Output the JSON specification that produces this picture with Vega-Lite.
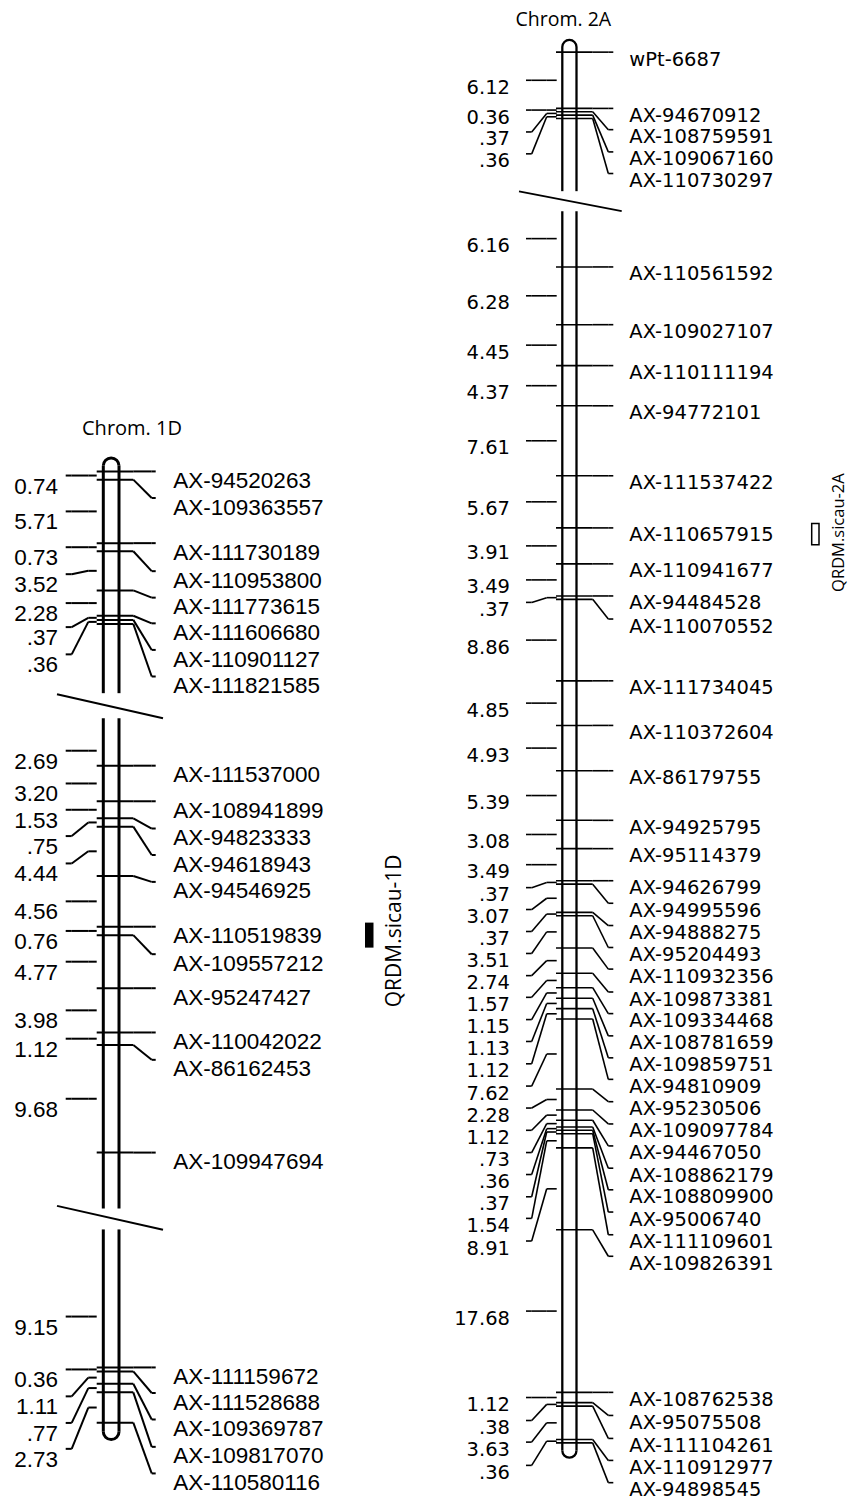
{
  "$schema": "https://vega.github.io/schema/vega-lite/v6.json",
  "width": 848,
  "height": 1500,
  "autosize": {"type": "fit", "contains": "padding"},
  "padding": 0,
  "background": "white",
  "config": {"view": {"stroke": null}},
  "datasets": {
    "m1D": [
      {"marker": "AX-94520263", "pos": 0, "lab": 0},
      {"marker": "AX-109363557", "pos": 0.74, "lab": 2.39},
      {"marker": "AX-111730189", "pos": 6.45, "lab": 6.45},
      {"marker": "AX-110953800", "pos": 7.18, "lab": 8.97},
      {"marker": "AX-111773615", "pos": 10.70, "lab": 11.35},
      {"marker": "AX-111606680", "pos": 12.98, "lab": 13.66},
      {"marker": "AX-110901127", "pos": 13.35, "lab": 16.05},
      {"marker": "AX-111821585", "pos": 13.71, "lab": 18.44},
      {"marker": "AX-111537000", "pos": 26.46, "lab": 26.46},
      {"marker": "AX-108941899", "pos": 29.66, "lab": 29.66},
      {"marker": "AX-94823333", "pos": 31.19, "lab": 32.11},
      {"marker": "AX-94618943", "pos": 31.94, "lab": 34.49},
      {"marker": "AX-94546925", "pos": 36.38, "lab": 36.91},
      {"marker": "AX-110519839", "pos": 40.94, "lab": 40.94},
      {"marker": "AX-109557212", "pos": 41.70, "lab": 43.41},
      {"marker": "AX-95247427", "pos": 46.47, "lab": 46.47},
      {"marker": "AX-110042022", "pos": 50.45, "lab": 50.45},
      {"marker": "AX-86162453", "pos": 51.57, "lab": 52.91},
      {"marker": "AX-109947694", "pos": 61.25, "lab": 61.25},
      {"marker": "AX-111159672", "pos": 80.57, "lab": 80.57},
      {"marker": "AX-111528688", "pos": 80.93, "lab": 82.87},
      {"marker": "AX-109369787", "pos": 82.04, "lab": 85.25},
      {"marker": "AX-109817070", "pos": 82.81, "lab": 87.71},
      {"marker": "AX-110580116", "pos": 85.54, "lab": 90.10}
    ],
    "i1D": [
      {"dist": "0.74", "mid": 0.37, "lab": 0.37},
      {"dist": "5.71", "mid": 3.595, "lab": 3.595},
      {"dist": "0.73", "mid": 6.815, "lab": 6.815},
      {"dist": "3.52", "mid": 8.94, "lab": 9.24},
      {"dist": "2.28", "mid": 11.84, "lab": 11.84},
      {"dist": ".37", "mid": 13.165, "lab": 14.0},
      {"dist": ".36", "mid": 13.53, "lab": 16.45},
      {"dist": "2.69", "mid": 25.115, "lab": 25.115},
      {"dist": "3.20", "mid": 28.06, "lab": 28.06},
      {"dist": "1.53", "mid": 30.425, "lab": 30.425},
      {"dist": ".75", "mid": 31.565, "lab": 32.79},
      {"dist": "4.44", "mid": 34.16, "lab": 35.25},
      {"dist": "4.56", "mid": 38.66, "lab": 38.66},
      {"dist": "0.76", "mid": 41.32, "lab": 41.32},
      {"dist": "4.77", "mid": 44.085, "lab": 44.085},
      {"dist": "3.98", "mid": 48.46, "lab": 48.46},
      {"dist": "1.12", "mid": 51.01, "lab": 51.01},
      {"dist": "9.68", "mid": 56.41, "lab": 56.41},
      {"dist": "9.15", "mid": 75.995, "lab": 75.995},
      {"dist": "0.36", "mid": 80.75, "lab": 80.75},
      {"dist": "1.11", "mid": 81.485, "lab": 83.17},
      {"dist": ".77", "mid": 82.425, "lab": 85.56},
      {"dist": "2.73", "mid": 84.175, "lab": 87.89}
    ],
    "seg1D": [
      {"start": -0.5, "end": 19.94},
      {"start": 22.2, "end": 66.28},
      {"start": 68.16, "end": 86.35}
    ],
    "cap1D": [
      {"end": "top", "pos": -0.5},
      {"end": "bottom", "pos": 86.35}
    ],
    "brk1D": [
      {"from": 20.03, "to": 22.2},
      {"from": 66.04, "to": 68.19}
    ],
    "qtl1D": [
      {"qtl": "QRDM.sicau-1D", "start": 40.57, "end": 42.82, "labelPos": 41.31}
    ],
    "m2A": [
      {"marker": "wPt-6687", "pos": 0, "lab": 0},
      {"marker": "AX-94670912", "pos": 6.12, "lab": 6.12},
      {"marker": "AX-108759591", "pos": 6.48, "lab": 8.43},
      {"marker": "AX-109067160", "pos": 6.85, "lab": 10.85},
      {"marker": "AX-110730297", "pos": 7.21, "lab": 13.20},
      {"marker": "AX-110561592", "pos": 23.36, "lab": 23.36},
      {"marker": "AX-109027107", "pos": 29.64, "lab": 29.64},
      {"marker": "AX-110111194", "pos": 34.09, "lab": 34.09},
      {"marker": "AX-94772101", "pos": 38.46, "lab": 38.46},
      {"marker": "AX-111537422", "pos": 46.07, "lab": 46.07},
      {"marker": "AX-110657915", "pos": 51.74, "lab": 51.74},
      {"marker": "AX-110941677", "pos": 55.65, "lab": 55.65},
      {"marker": "AX-94484528", "pos": 59.14, "lab": 59.14},
      {"marker": "AX-110070552", "pos": 59.51, "lab": 61.65},
      {"marker": "AX-111734045", "pos": 68.37, "lab": 68.37},
      {"marker": "AX-110372604", "pos": 73.22, "lab": 73.22},
      {"marker": "AX-86179755", "pos": 78.15, "lab": 78.15},
      {"marker": "AX-94925795", "pos": 83.54, "lab": 83.54},
      {"marker": "AX-95114379", "pos": 86.62, "lab": 86.62},
      {"marker": "AX-94626799", "pos": 90.11, "lab": 90.11},
      {"marker": "AX-94995596", "pos": 90.48, "lab": 92.56},
      {"marker": "AX-94888275", "pos": 93.55, "lab": 94.98},
      {"marker": "AX-95204493", "pos": 93.92, "lab": 97.37},
      {"marker": "AX-110932356", "pos": 97.43, "lab": 99.72},
      {"marker": "AX-109873381", "pos": 100.17, "lab": 102.21},
      {"marker": "AX-109334468", "pos": 101.74, "lab": 104.56},
      {"marker": "AX-108781659", "pos": 102.89, "lab": 106.98},
      {"marker": "AX-109859751", "pos": 104.02, "lab": 109.37},
      {"marker": "AX-94810909", "pos": 105.14, "lab": 111.71},
      {"marker": "AX-95230506", "pos": 112.76, "lab": 114.14},
      {"marker": "AX-109097784", "pos": 115.04, "lab": 116.56},
      {"marker": "AX-94467050", "pos": 116.16, "lab": 118.95},
      {"marker": "AX-108862179", "pos": 116.89, "lab": 121.37},
      {"marker": "AX-108809900", "pos": 117.25, "lab": 123.72},
      {"marker": "AX-95006740", "pos": 117.62, "lab": 126.14},
      {"marker": "AX-111109601", "pos": 119.16, "lab": 128.61},
      {"marker": "AX-109826391", "pos": 128.07, "lab": 130.95},
      {"marker": "AX-108762538", "pos": 145.75, "lab": 145.75},
      {"marker": "AX-95075508", "pos": 146.87, "lab": 148.26},
      {"marker": "AX-111104261", "pos": 147.25, "lab": 150.76},
      {"marker": "AX-110912977", "pos": 150.88, "lab": 153.15},
      {"marker": "AX-94898545", "pos": 151.24, "lab": 155.57}
    ],
    "i2A": [
      {"dist": "6.12", "mid": 3.06, "lab": 3.06},
      {"dist": "0.36", "mid": 6.30, "lab": 6.30},
      {"dist": ".37", "mid": 6.665, "lab": 8.68},
      {"dist": ".36", "mid": 7.03, "lab": 11.06},
      {"dist": "6.16", "mid": 20.28, "lab": 20.28},
      {"dist": "6.28", "mid": 26.50, "lab": 26.50},
      {"dist": "4.45", "mid": 31.865, "lab": 31.865},
      {"dist": "4.37", "mid": 36.275, "lab": 36.275},
      {"dist": "7.61", "mid": 42.265, "lab": 42.265},
      {"dist": "5.67", "mid": 48.905, "lab": 48.905},
      {"dist": "3.91", "mid": 53.695, "lab": 53.695},
      {"dist": "3.49", "mid": 57.395, "lab": 57.395},
      {"dist": ".37", "mid": 59.325, "lab": 59.84},
      {"dist": "8.86", "mid": 63.94, "lab": 63.94},
      {"dist": "4.85", "mid": 70.795, "lab": 70.795},
      {"dist": "4.93", "mid": 75.685, "lab": 75.685},
      {"dist": "5.39", "mid": 80.845, "lab": 80.845},
      {"dist": "3.08", "mid": 85.08, "lab": 85.08},
      {"dist": "3.49", "mid": 88.365, "lab": 88.365},
      {"dist": ".37", "mid": 90.295, "lab": 90.86},
      {"dist": "3.07", "mid": 92.015, "lab": 93.24},
      {"dist": ".37", "mid": 93.735, "lab": 95.63},
      {"dist": "3.51", "mid": 95.675, "lab": 98.02},
      {"dist": "2.74", "mid": 98.80, "lab": 100.43},
      {"dist": "1.57", "mid": 100.955, "lab": 102.79},
      {"dist": "1.15", "mid": 102.315, "lab": 105.21},
      {"dist": "1.13", "mid": 103.455, "lab": 107.59},
      {"dist": "1.12", "mid": 104.58, "lab": 110.02},
      {"dist": "7.62", "mid": 108.95, "lab": 112.44},
      {"dist": "2.28", "mid": 113.90, "lab": 114.83},
      {"dist": "1.12", "mid": 115.60, "lab": 117.25},
      {"dist": ".73", "mid": 116.525, "lab": 119.67},
      {"dist": ".36", "mid": 117.07, "lab": 122.06},
      {"dist": ".37", "mid": 117.435, "lab": 124.48},
      {"dist": "1.54", "mid": 118.39, "lab": 126.83},
      {"dist": "8.91", "mid": 123.615, "lab": 129.29},
      {"dist": "17.68", "mid": 136.91, "lab": 136.91},
      {"dist": "1.12", "mid": 146.31, "lab": 146.31},
      {"dist": ".38", "mid": 147.06, "lab": 148.81},
      {"dist": "3.63", "mid": 149.065, "lab": 151.16},
      {"dist": ".36", "mid": 151.06, "lab": 153.69}
    ],
    "seg2A": [
      {"start": -0.56, "end": 15.12},
      {"start": 17.29, "end": 152.08}
    ],
    "cap2A": [
      {"end": "top", "pos": -0.56},
      {"end": "bottom", "pos": 152.08}
    ],
    "brk2A": [
      {"from": 15.15, "to": 17.29}
    ],
    "qtl2A": [
      {"qtl": "QRDM.sicau-2A", "start": 51.25, "end": 53.56, "labelPos": 52.25}
    ]
  },
  "resolve": {"scale": {"y": "independent"}},
  "layer": [
    {
      "layer": [
        {
          "data": {"name": "seg1D"},
          "mark": {"type": "rule", "strokeWidth": 3, "color": "black"},
          "encoding": {
            "x": {"datum": 103.3, "type": "quantitative", "scale": {"domain": [0, 848], "nice": false, "zero": false}, "axis": null},
            "y": {"field": "start", "type": "quantitative", "scale": {"domain": [-42.39, 92.13], "reverse": true, "nice": false, "zero": false}, "axis": null},
            "y2": {"field": "end"}
          }
        },
        {
          "data": {"name": "seg1D"},
          "mark": {"type": "rule", "strokeWidth": 3, "color": "black"},
          "encoding": {
            "x": {"datum": 119.0, "type": "quantitative", "scale": {"domain": [0, 848], "nice": false, "zero": false}, "axis": null},
            "y": {"field": "start", "type": "quantitative", "scale": {"domain": [-42.39, 92.13], "reverse": true, "nice": false, "zero": false}, "axis": null},
            "y2": {"field": "end"}
          }
        },
        {
          "data": {"name": "cap1D"},
          "mark": {"type": "point", "filled": false, "strokeWidth": 3, "color": "black", "size": 246.5, "opacity": 1},
          "encoding": {
            "x": {"datum": 111.15, "type": "quantitative", "scale": {"domain": [0, 848], "nice": false, "zero": false}, "axis": null},
            "y": {"field": "pos", "type": "quantitative", "scale": {"domain": [-42.39, 92.13], "reverse": true, "nice": false, "zero": false}, "axis": null},
            "shape": {"field": "end", "type": "nominal", "scale": {"domain": ["top", "bottom"], "range": ["M-1,0A1,1,0,0,1,1,0", "M-1,0A1,1,0,0,0,1,0"]}, "legend": null}
          }
        },
        {
          "data": {"name": "brk1D"},
          "mark": {"type": "rule", "strokeWidth": 2, "color": "black"},
          "encoding": {
            "x": {"datum": 57, "type": "quantitative", "scale": {"domain": [0, 848], "nice": false, "zero": false}, "axis": null},
            "x2": {"datum": 163},
            "y": {"field": "from", "type": "quantitative", "scale": {"domain": [-42.39, 92.13], "reverse": true, "nice": false, "zero": false}, "axis": null},
            "y2": {"field": "to"}
          }
        },
        {
          "data": {"name": "m1D"},
          "mark": {"type": "rule", "strokeWidth": 2, "color": "black"},
          "encoding": {
            "x": {"datum": 96.7, "type": "quantitative", "scale": {"domain": [0, 848], "nice": false, "zero": false}, "axis": null},
            "x2": {"datum": 133.3},
            "y": {"field": "pos", "type": "quantitative", "scale": {"domain": [-42.39, 92.13], "reverse": true, "nice": false, "zero": false}, "axis": null}
          }
        },
        {
          "data": {"name": "m1D"},
          "mark": {"type": "rule", "strokeWidth": 2, "color": "black"},
          "encoding": {
            "x": {"datum": 133.3, "type": "quantitative", "scale": {"domain": [0, 848], "nice": false, "zero": false}, "axis": null},
            "x2": {"datum": 151.7},
            "y": {"field": "pos", "type": "quantitative", "scale": {"domain": [-42.39, 92.13], "reverse": true, "nice": false, "zero": false}, "axis": null},
            "y2": {"field": "lab"}
          }
        },
        {
          "data": {"name": "m1D"},
          "mark": {"type": "rule", "strokeWidth": 2, "color": "black"},
          "encoding": {
            "x": {"datum": 151.7, "type": "quantitative", "scale": {"domain": [0, 848], "nice": false, "zero": false}, "axis": null},
            "x2": {"datum": 155.7},
            "y": {"field": "lab", "type": "quantitative", "scale": {"domain": [-42.39, 92.13], "reverse": true, "nice": false, "zero": false}, "axis": null}
          }
        },
        {
          "data": {"name": "m1D"},
          "mark": {"type": "text", "align": "left", "baseline": "top", "dy": -1.4, "font": "Liberation Sans", "fontSize": 22.5, "color": "black"},
          "encoding": {
            "x": {"datum": 173.3, "type": "quantitative", "scale": {"domain": [0, 848], "nice": false, "zero": false}, "axis": null},
            "y": {"field": "lab", "type": "quantitative", "scale": {"domain": [-42.39, 92.13], "reverse": true, "nice": false, "zero": false}, "axis": null},
            "text": {"field": "marker", "type": "nominal"}
          }
        },
        {
          "data": {"name": "i1D"},
          "mark": {"type": "rule", "strokeWidth": 2, "color": "black"},
          "encoding": {
            "x": {"datum": 88.3, "type": "quantitative", "scale": {"domain": [0, 848], "nice": false, "zero": false}, "axis": null},
            "x2": {"datum": 96.7},
            "y": {"field": "mid", "type": "quantitative", "scale": {"domain": [-42.39, 92.13], "reverse": true, "nice": false, "zero": false}, "axis": null}
          }
        },
        {
          "data": {"name": "i1D"},
          "mark": {"type": "rule", "strokeWidth": 2, "color": "black"},
          "encoding": {
            "x": {"datum": 71.7, "type": "quantitative", "scale": {"domain": [0, 848], "nice": false, "zero": false}, "axis": null},
            "x2": {"datum": 88.3},
            "y": {"field": "lab", "type": "quantitative", "scale": {"domain": [-42.39, 92.13], "reverse": true, "nice": false, "zero": false}, "axis": null},
            "y2": {"field": "mid"}
          }
        },
        {
          "data": {"name": "i1D"},
          "mark": {"type": "rule", "strokeWidth": 2, "color": "black"},
          "encoding": {
            "x": {"datum": 65.7, "type": "quantitative", "scale": {"domain": [0, 848], "nice": false, "zero": false}, "axis": null},
            "x2": {"datum": 71.7},
            "y": {"field": "lab", "type": "quantitative", "scale": {"domain": [-42.39, 92.13], "reverse": true, "nice": false, "zero": false}, "axis": null}
          }
        },
        {
          "data": {"name": "i1D"},
          "mark": {"type": "text", "align": "right", "baseline": "top", "dy": 0, "font": "Liberation Sans", "fontSize": 22.5, "color": "black"},
          "encoding": {
            "x": {"datum": 58, "type": "quantitative", "scale": {"domain": [0, 848], "nice": false, "zero": false}, "axis": null},
            "y": {"field": "lab", "type": "quantitative", "scale": {"domain": [-42.39, 92.13], "reverse": true, "nice": false, "zero": false}, "axis": null},
            "text": {"field": "dist", "type": "nominal"}
          }
        },
        {
          "data": {"values": [{"title": "Chrom. 1D"}]},
          "mark": {"type": "text", "align": "center", "baseline": "middle", "font": "Open Sans", "fontSize": 20, "color": "black"},
          "encoding": {
            "x": {"datum": 132, "type": "quantitative", "scale": {"domain": [0, 848], "nice": false, "zero": false}, "axis": null},
            "y": {"datum": -3.77, "type": "quantitative", "scale": {"domain": [-42.39, 92.13], "reverse": true, "nice": false, "zero": false}, "axis": null},
            "text": {"field": "title", "type": "nominal"}
          }
        },
        {
          "data": {"name": "qtl1D"},
          "mark": {"type": "rect", "color": "black"},
          "encoding": {
            "x": {"datum": 365, "type": "quantitative", "scale": {"domain": [0, 848], "nice": false, "zero": false}, "axis": null},
            "x2": {"datum": 373.5},
            "y": {"field": "start", "type": "quantitative", "scale": {"domain": [-42.39, 92.13], "reverse": true, "nice": false, "zero": false}, "axis": null},
            "y2": {"field": "end"}
          }
        },
        {
          "data": {"name": "qtl1D"},
          "mark": {"type": "text", "align": "center", "baseline": "middle", "angle": 270, "font": "Open Sans", "fontSize": 21, "color": "black"},
          "encoding": {
            "x": {"datum": 395, "type": "quantitative", "scale": {"domain": [0, 848], "nice": false, "zero": false}, "axis": null},
            "y": {"field": "labelPos", "type": "quantitative", "scale": {"domain": [-42.39, 92.13], "reverse": true, "nice": false, "zero": false}, "axis": null},
            "text": {"field": "qtl", "type": "nominal"}
          }
        }
      ]
    },
    {
      "layer": [
        {
          "data": {"name": "seg2A"},
          "mark": {"type": "rule", "strokeWidth": 2.3, "color": "black"},
          "encoding": {
            "x": {"datum": 562.3, "type": "quantitative", "scale": {"domain": [0, 848], "nice": false, "zero": false}, "axis": null},
            "y": {"field": "start", "type": "quantitative", "scale": {"domain": [-5.67, 157.02], "reverse": true, "nice": false, "zero": false}, "axis": null},
            "y2": {"field": "end"}
          }
        },
        {
          "data": {"name": "seg2A"},
          "mark": {"type": "rule", "strokeWidth": 2.3, "color": "black"},
          "encoding": {
            "x": {"datum": 576.5, "type": "quantitative", "scale": {"domain": [0, 848], "nice": false, "zero": false}, "axis": null},
            "y": {"field": "start", "type": "quantitative", "scale": {"domain": [-5.67, 157.02], "reverse": true, "nice": false, "zero": false}, "axis": null},
            "y2": {"field": "end"}
          }
        },
        {
          "data": {"name": "cap2A"},
          "mark": {"type": "point", "filled": false, "strokeWidth": 2.3, "color": "black", "size": 201.6, "opacity": 1},
          "encoding": {
            "x": {"datum": 569.4, "type": "quantitative", "scale": {"domain": [0, 848], "nice": false, "zero": false}, "axis": null},
            "y": {"field": "pos", "type": "quantitative", "scale": {"domain": [-5.67, 157.02], "reverse": true, "nice": false, "zero": false}, "axis": null},
            "shape": {"field": "end", "type": "nominal", "scale": {"domain": ["top", "bottom"], "range": ["M-1,0A1,1,0,0,1,1,0", "M-1,0A1,1,0,0,0,1,0"]}, "legend": null}
          }
        },
        {
          "data": {"name": "brk2A"},
          "mark": {"type": "rule", "strokeWidth": 1.8, "color": "black"},
          "encoding": {
            "x": {"datum": 519, "type": "quantitative", "scale": {"domain": [0, 848], "nice": false, "zero": false}, "axis": null},
            "x2": {"datum": 621.7},
            "y": {"field": "from", "type": "quantitative", "scale": {"domain": [-5.67, 157.02], "reverse": true, "nice": false, "zero": false}, "axis": null},
            "y2": {"field": "to"}
          }
        },
        {
          "data": {"name": "m2A"},
          "mark": {"type": "rule", "strokeWidth": 1.6, "color": "black"},
          "encoding": {
            "x": {"datum": 556, "type": "quantitative", "scale": {"domain": [0, 848], "nice": false, "zero": false}, "axis": null},
            "x2": {"datum": 592.7},
            "y": {"field": "pos", "type": "quantitative", "scale": {"domain": [-5.67, 157.02], "reverse": true, "nice": false, "zero": false}, "axis": null}
          }
        },
        {
          "data": {"name": "m2A"},
          "mark": {"type": "rule", "strokeWidth": 1.6, "color": "black"},
          "encoding": {
            "x": {"datum": 592.7, "type": "quantitative", "scale": {"domain": [0, 848], "nice": false, "zero": false}, "axis": null},
            "x2": {"datum": 608.3},
            "y": {"field": "pos", "type": "quantitative", "scale": {"domain": [-5.67, 157.02], "reverse": true, "nice": false, "zero": false}, "axis": null},
            "y2": {"field": "lab"}
          }
        },
        {
          "data": {"name": "m2A"},
          "mark": {"type": "rule", "strokeWidth": 1.6, "color": "black"},
          "encoding": {
            "x": {"datum": 608.3, "type": "quantitative", "scale": {"domain": [0, 848], "nice": false, "zero": false}, "axis": null},
            "x2": {"datum": 613.3},
            "y": {"field": "lab", "type": "quantitative", "scale": {"domain": [-5.67, 157.02], "reverse": true, "nice": false, "zero": false}, "axis": null}
          }
        },
        {
          "data": {"name": "m2A"},
          "mark": {"type": "text", "align": "left", "baseline": "top", "dy": -1.5, "font": "DejaVu Sans", "fontSize": 19.5, "color": "black"},
          "encoding": {
            "x": {"datum": 629.3, "type": "quantitative", "scale": {"domain": [0, 848], "nice": false, "zero": false}, "axis": null},
            "y": {"field": "lab", "type": "quantitative", "scale": {"domain": [-5.67, 157.02], "reverse": true, "nice": false, "zero": false}, "axis": null},
            "text": {"field": "marker", "type": "nominal"}
          }
        },
        {
          "data": {"name": "i2A"},
          "mark": {"type": "rule", "strokeWidth": 1.6, "color": "black"},
          "encoding": {
            "x": {"datum": 546.7, "type": "quantitative", "scale": {"domain": [0, 848], "nice": false, "zero": false}, "axis": null},
            "x2": {"datum": 556.7},
            "y": {"field": "mid", "type": "quantitative", "scale": {"domain": [-5.67, 157.02], "reverse": true, "nice": false, "zero": false}, "axis": null}
          }
        },
        {
          "data": {"name": "i2A"},
          "mark": {"type": "rule", "strokeWidth": 1.6, "color": "black"},
          "encoding": {
            "x": {"datum": 531.7, "type": "quantitative", "scale": {"domain": [0, 848], "nice": false, "zero": false}, "axis": null},
            "x2": {"datum": 546.7},
            "y": {"field": "lab", "type": "quantitative", "scale": {"domain": [-5.67, 157.02], "reverse": true, "nice": false, "zero": false}, "axis": null},
            "y2": {"field": "mid"}
          }
        },
        {
          "data": {"name": "i2A"},
          "mark": {"type": "rule", "strokeWidth": 1.6, "color": "black"},
          "encoding": {
            "x": {"datum": 526, "type": "quantitative", "scale": {"domain": [0, 848], "nice": false, "zero": false}, "axis": null},
            "x2": {"datum": 531.7},
            "y": {"field": "lab", "type": "quantitative", "scale": {"domain": [-5.67, 157.02], "reverse": true, "nice": false, "zero": false}, "axis": null}
          }
        },
        {
          "data": {"name": "i2A"},
          "mark": {"type": "text", "align": "right", "baseline": "top", "dy": -1.5, "font": "DejaVu Sans", "fontSize": 19.5, "color": "black"},
          "encoding": {
            "x": {"datum": 510, "type": "quantitative", "scale": {"domain": [0, 848], "nice": false, "zero": false}, "axis": null},
            "y": {"field": "lab", "type": "quantitative", "scale": {"domain": [-5.67, 157.02], "reverse": true, "nice": false, "zero": false}, "axis": null},
            "text": {"field": "dist", "type": "nominal"}
          }
        },
        {
          "data": {"values": [{"title": "Chrom. 2A"}]},
          "mark": {"type": "text", "align": "center", "baseline": "middle", "font": "Open Sans", "fontSize": 19.5, "color": "black"},
          "encoding": {
            "x": {"datum": 563.3, "type": "quantitative", "scale": {"domain": [0, 848], "nice": false, "zero": false}, "axis": null},
            "y": {"datum": -3.5, "type": "quantitative", "scale": {"domain": [-5.67, 157.02], "reverse": true, "nice": false, "zero": false}, "axis": null},
            "text": {"field": "title", "type": "nominal"}
          }
        },
        {
          "data": {"name": "qtl2A"},
          "mark": {"type": "rect", "fill": "white", "stroke": "black", "strokeWidth": 1.5},
          "encoding": {
            "x": {"datum": 811.7, "type": "quantitative", "scale": {"domain": [0, 848], "nice": false, "zero": false}, "axis": null},
            "x2": {"datum": 819},
            "y": {"field": "start", "type": "quantitative", "scale": {"domain": [-5.67, 157.02], "reverse": true, "nice": false, "zero": false}, "axis": null},
            "y2": {"field": "end"}
          }
        },
        {
          "data": {"name": "qtl2A"},
          "mark": {"type": "text", "align": "center", "baseline": "middle", "angle": 270, "font": "Open Sans", "fontSize": 16.5, "color": "black"},
          "encoding": {
            "x": {"datum": 838.5, "type": "quantitative", "scale": {"domain": [0, 848], "nice": false, "zero": false}, "axis": null},
            "y": {"field": "labelPos", "type": "quantitative", "scale": {"domain": [-5.67, 157.02], "reverse": true, "nice": false, "zero": false}, "axis": null},
            "text": {"field": "qtl", "type": "nominal"}
          }
        }
      ]
    }
  ]
}
